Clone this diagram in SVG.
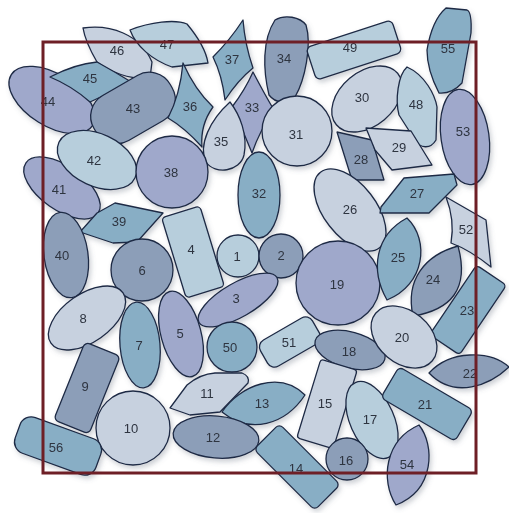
<svg xmlns="http://www.w3.org/2000/svg" width="509" height="513" viewBox="0 0 509 513">
<defs>
<filter id="sh" x="-10%" y="-10%" width="120%" height="120%">
<feDropShadow dx="2" dy="3" stdDeviation="2.5" flood-color="#5a6478" flood-opacity="0.3"/>
</filter>
</defs>
<style>
.s ellipse,.s circle,.s rect,.s path,.s polygon{stroke:#1e2a45;stroke-width:1.3;stroke-linejoin:round}
.a{fill:#c7d1df}.b{fill:#b7cedc}.c{fill:#8c9eb8}.d{fill:#9fa8cb}.e{fill:#88aec5}
text{font-family:"Liberation Sans",Arial,sans-serif;font-size:13px;fill:#2e3440;text-anchor:middle;dominant-baseline:central}
</style>
<rect width="509" height="513" fill="#ffffff"/>
<g class="s" filter="url(#sh)">
<g id="s46"><path class="a" d="M83,28 C110,24 140,34 152,62 L150,78 C130,80 110,72 97,62 C90,50 85,40 83,28 Z"/><text x="117" y="50">46</text></g>
<g id="s47"><path class="b" d="M130,30 C150,22 175,19 187,24 C197,36 206,50 208,63 L172,67 C152,60 136,46 130,30 Z"/><text x="167" y="44">47</text></g>
<g id="s44"><ellipse class="d" cx="52" cy="100" rx="48" ry="26" transform="rotate(32 52 100)"/><text x="48" y="101">44</text></g>
<g id="s45"><path class="e" d="M50,77 Q75,64 97,62 Q115,72 133,83 Q110,92 90,102 Q72,86 50,77 Z"/><text x="90" y="78">45</text></g>
<g id="s43"><rect class="c" x="-44" y="-26" width="88" height="52" rx="24" transform="translate(133,108) rotate(-30)"/><text x="133" y="108">43</text></g>
<g id="s41"><ellipse class="d" cx="62" cy="188" rx="44" ry="22" transform="rotate(35 62 188)"/><text x="59" y="189">41</text></g>
<g id="s42"><ellipse class="b" cx="97" cy="160" rx="42" ry="26" transform="rotate(25 97 160)"/><text x="94" y="160">42</text></g>
<g id="s36"><path class="e" d="M183,63 Q195,90 213,107 Q200,125 202,147 Q185,128 168,118 Q180,95 183,63 Z"/><text x="190" y="106">36</text></g>
<g id="s37"><path class="e" d="M243,20 Q245,45 253,68 Q238,80 225,100 Q222,75 213,57 Q230,40 243,20 Z"/><text x="232" y="59">37</text></g>
<g id="s34"><path class="c" d="M275,20 C285,14 300,17 306,25 C312,45 305,80 295,97 C288,105 275,103 269,95 C263,70 262,40 275,20 Z"/><text x="284" y="58">34</text></g>
<g id="s33"><path class="d" d="M253,72 Q265,95 274,110 Q260,130 252,153 Q243,130 232,107 Q245,90 253,72 Z"/><text x="252" y="107">33</text></g>
<g id="s35"><path class="a" d="M230,102 C240,115 248,135 244,155 C240,172 215,175 206,162 C198,145 210,120 230,102 Z"/><text x="221" y="141">35</text></g>
<g id="s38"><circle class="d" cx="172" cy="172" r="36"/><text x="171" y="172">38</text></g>
<g id="s31"><circle class="a" cx="297" cy="131" r="35"/><text x="296" y="134">31</text></g>
<g id="s49"><rect class="b" x="-45" y="-17" width="90" height="34" rx="5" transform="translate(354,50) rotate(-18)"/><text x="350" y="47">49</text></g>
<g id="s30"><ellipse class="a" cx="367" cy="99" rx="40" ry="27" transform="rotate(-40 367 99)"/><text x="362" y="97">30</text></g>
<g id="s48"><path class="b" d="M407,67 C425,75 435,95 437,107 L436,140 C430,150 420,148 415,140 L399,115 C395,100 398,75 407,67 Z"/><text x="416" y="104">48</text></g>
<g id="s55"><path class="e" d="M446,8 L467,10 Q472,12 471,33 L462,83 Q452,94 439,93 Q427,70 427,50 Q432,20 446,8 Z"/><text x="448" y="48">55</text></g>
<g id="s53"><ellipse class="d" cx="465" cy="137" rx="24" ry="48" transform="rotate(-8 465 137)"/><text x="463" y="131">53</text></g>
<g id="s28"><polygon class="c" points="337,132 372,140 384,180 352,180"/><text x="361" y="159">28</text></g>
<g id="s29"><polygon class="a" points="366,128 411,131 432,165 392,170 375,150"/><text x="399" y="147">29</text></g>
<g id="s32"><ellipse class="e" cx="259" cy="195" rx="21" ry="43"/><text x="259" y="193">32</text></g>
<g id="s26"><ellipse class="a" cx="350" cy="210" rx="48" ry="26" transform="rotate(52 350 210)"/><text x="350" y="209">26</text></g>
<g id="s27"><polygon class="e" points="381,207 404,178 454,174 457,185 429,213 380,213"/><text x="417" y="193">27</text></g>
<g id="s52"><path class="a" d="M446,197 L486,220 L491,267 Q470,250 451,243 Q455,220 446,197 Z"/><text x="466" y="229">52</text></g>
<g id="s39"><polygon class="e" points="80,232 97,213 115,203 163,213 137,242 113,243"/><text x="119" y="221">39</text></g>
<g id="s40"><ellipse class="c" cx="66" cy="255" rx="22" ry="43" transform="rotate(-8 66 255)"/><text x="62" y="255">40</text></g>
<g id="s4"><rect class="b" x="-20" y="-42" width="40" height="84" rx="4" transform="translate(193,252) rotate(-17)"/><text x="191" y="249">4</text></g>
<g id="s6"><circle class="c" cx="142" cy="270" r="31"/><text x="142" y="270">6</text></g>
<g id="s1"><circle class="b" cx="238" cy="256" r="21"/><text x="237" y="256">1</text></g>
<g id="s2"><circle class="c" cx="281" cy="256" r="22"/><text x="281" y="255">2</text></g>
<g id="s19"><circle class="d" cx="338" cy="283" r="42"/><text x="337" y="284">19</text></g>
<g id="s25"><path class="e" d="M407,218 C430,240 425,285 387,300 C370,270 375,235 407,218 Z"/><text x="398" y="257">25</text></g>
<g id="s24"><path class="c" d="M458,246 C470,290 450,310 413,316 C405,280 425,255 458,246 Z"/><text x="433" y="279">24</text></g>
<g id="s23"><rect class="e" x="-18" y="-42" width="36" height="84" rx="4" transform="translate(468,310) rotate(34)"/><text x="467" y="310">23</text></g>
<g id="s3"><ellipse class="d" cx="238" cy="300" rx="45" ry="17" transform="rotate(-30 238 300)"/><text x="236" y="298">3</text></g>
<g id="s8"><ellipse class="a" cx="87" cy="318" rx="44" ry="24" transform="rotate(-35 87 318)"/><text x="83" y="318">8</text></g>
<g id="s7"><ellipse class="e" cx="140" cy="345" rx="20" ry="43" transform="rotate(-5 140 345)"/><text x="139" y="345">7</text></g>
<g id="s5"><ellipse class="d" cx="181" cy="334" rx="20" ry="44" transform="rotate(-15 181 334)"/><text x="180" y="333">5</text></g>
<g id="s50"><circle class="e" cx="232" cy="347" r="25"/><text x="230" y="347">50</text></g>
<g id="s51"><rect class="b" x="-30" y="-15" width="60" height="30" rx="8" transform="translate(290,342) rotate(-30)"/><text x="289" y="342">51</text></g>
<g id="s18"><ellipse class="c" cx="350" cy="350" rx="36" ry="18" transform="rotate(15 350 350)"/><text x="349" y="351">18</text></g>
<g id="s20"><ellipse class="a" cx="404" cy="337" rx="37" ry="26" transform="rotate(40 404 337)"/><text x="402" y="337">20</text></g>
<g id="s22"><path class="c" d="M429,373 C450,350 490,350 509,367 C490,385 455,400 429,373 Z"/><text x="470" y="373">22</text></g>
<g id="s9"><rect class="c" x="-19" y="-42" width="38" height="84" rx="5" transform="translate(87,388) rotate(22)"/><text x="85" y="386">9</text></g>
<g id="s11"><path class="a" d="M170,408 L187,385 Q200,374 215,373 L242,373 Q250,376 248,383 L220,412 L190,415 Z"/><text x="207" y="393">11</text></g>
<g id="s13"><path class="e" d="M222,412 C240,385 280,370 305,395 C285,425 250,435 222,412 Z"/><text x="262" y="403">13</text></g>
<g id="s15"><rect class="a" x="-19" y="-41" width="38" height="82" rx="3" transform="translate(327,404) rotate(17)"/><text x="325" y="403">15</text></g>
<g id="s17"><ellipse class="b" cx="372" cy="420" rx="22" ry="41" transform="rotate(-24 372 420)"/><text x="370" y="419">17</text></g>
<g id="s21"><rect class="e" x="-18" y="-43" width="36" height="86" rx="5" transform="translate(427,404) rotate(-59.5)"/><text x="425" y="404">21</text></g>
<g id="s10"><circle class="a" cx="133" cy="428" r="37"/><text x="131" y="428">10</text></g>
<g id="s12"><ellipse class="c" cx="216" cy="437" rx="43" ry="21" transform="rotate(5 216 437)"/><text x="213" y="437">12</text></g>
<g id="s14"><rect class="e" x="-18" y="-43" width="36" height="86" rx="5" transform="translate(297,467) rotate(-45)"/><text x="296" y="468">14</text></g>
<g id="s16"><circle class="c" cx="347" cy="459" r="21"/><text x="346" y="460">16</text></g>
<g id="s54"><path class="d" d="M419,425 C435,445 435,490 396,505 C380,480 385,440 419,425 Z"/><text x="407" y="464">54</text></g>
<g id="s56"><rect class="e" x="-43" y="-19" width="86" height="38" rx="12" transform="translate(58,446) rotate(20)"/><text x="56" y="447">56</text></g>
</g>
<rect id="frame" x="43" y="42" width="433" height="431" fill="none" stroke="#6e1f26" stroke-width="3"/>
</svg>
